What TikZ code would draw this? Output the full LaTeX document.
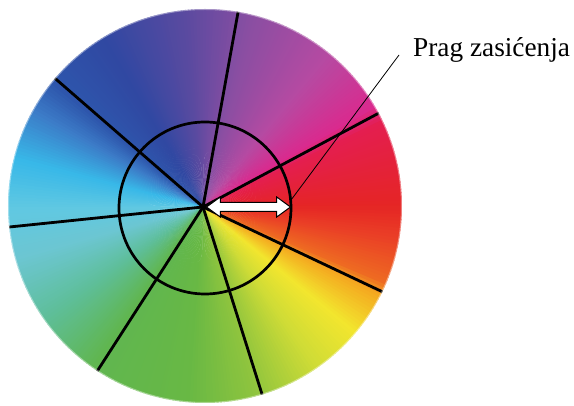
\documentclass[tikz,border=0pt]{standalone}
\usepackage{fontspec}
\setmainfont{Liberation Serif}
\usetikzlibrary{shapes.arrows,calc}
\definecolor{hA}{HTML}{E52525}
\definecolor{hB}{HTML}{E41E50}
\definecolor{hC}{HTML}{DA2A8E}
\definecolor{hD}{HTML}{B64AA2}
\definecolor{hE}{HTML}{8A4EA2}
\definecolor{hF}{HTML}{5A4AA0}
\definecolor{hG}{HTML}{3048A2}
\definecolor{hH}{HTML}{2E56AC}
\definecolor{hI}{HTML}{3C7CC8}
\definecolor{hJ}{HTML}{38B8E8}
\definecolor{hK}{HTML}{60C8E2}
\definecolor{hL}{HTML}{6CC6D2}
\definecolor{hM}{HTML}{5EBE98}
\definecolor{hN}{HTML}{60B650}
\definecolor{hO}{HTML}{68B844}
\definecolor{hP}{HTML}{8EC43E}
\definecolor{hQ}{HTML}{D0DC36}
\definecolor{hR}{HTML}{F2E62E}
\definecolor{hS}{HTML}{F4A820}
\definecolor{hT}{HTML}{EE6A22}
\definecolor{hU}{HTML}{EA4026}

\begin{document}
\begin{tikzpicture}[x=1pt,y=1pt,
  spoke/.style={line width=2.8pt},
  ring/.style={line width=2.7pt},
  satarrow/.style={double arrow,draw=black,fill=white,line width=1pt,
    inner xsep=0pt,inner ysep=4pt,minimum height=84pt,
    double arrow head extend=5.5pt,double arrow tip angle=72}]
  \useasboundingbox (-203,-199) rectangle (371,207);
  \coordinate (o) at (0,0);
  % hue wheel, cut to the disc
  \begin{scope}
    \clip (2,1) circle (197);
    \foreach \a/\b/\ca/\cb in {0/25/hA/hB,25/30/hB/hC,30/50/hC/hD,50/75/hD/hE,
        75/95/hE/hF,95/120/hF/hG,120/140/hG/hH,140/150/hH/hI,150/165/hI/hJ,
        165/180/hJ/hK,180/195/hK/hL,195/215/hL/hM,215/235/hM/hN,235/265/hN/hO,
        265/285/hO/hP,285/305/hP/hQ,305/320/hQ/hR,320/333/hR/hS,333/337/hS/hT,
        337/350/hT/hU,350/360/hU/hA}{
      \pgfmathtruncatemacro{\e}{\b-1}
      \foreach \t in {\a,...,\e}{
        \pgfmathtruncatemacro{\p}{100*(\t-\a)/(\b-\a)}
        \fill[\cb!\p!\ca] (o) -- (\t:205) arc[start angle=\t,end angle=\t+1.5,radius=205] -- cycle;}}
    \foreach \g in {28.1,79.8,139,185.9,237.2,287.5,334.7}
      \draw[spoke] (o) -- (\g:210);
  \end{scope}
  \draw[white,opacity=0.4,line width=2pt] (2,1) circle (197);
  \draw[ring] (2,-1) circle (86);
  \node[satarrow] (sat) at (45.5,0) {};
  \coordinate (tip) at ($(2,-1)+(5:86)$);
  \node[anchor=base west,inner sep=0pt,font=\fontsize{27.3}{32}\selectfont] (lbl) at (210,150) {Prag zasićenja};
  \draw[line width=0.8pt] (tip) -- ([shift={(-14,2)}]lbl.base west);
\end{tikzpicture}
\end{document}
